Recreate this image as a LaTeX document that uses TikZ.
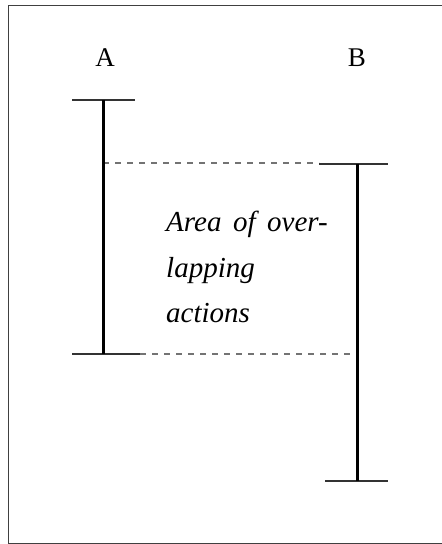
\documentclass[tikz,border=0pt]{standalone}
\usepackage{fontspec}
\setmainfont{Liberation Serif}[ItalicFont={Liberation Serif Italic}]
\begin{document}
\begin{tikzpicture}[x=1pt,y=-1pt,
  frame/.style={draw=black!75,line width=1pt},
  bar/.style={line width=3pt,line cap=butt},
  tick/.style={draw=black!80,line width=1.4pt},
  guide/.style={draw=black!55,line width=1.2pt,dash pattern=on 6pt off 6pt},
  lbl/.style={font=\fontsize{27}{30}\selectfont,inner sep=0pt},
  note/.style={font=\fontsize{29}{33}\selectfont\itshape,inner sep=0pt,anchor=base west}]
\useasboundingbox (0,0) rectangle (442,544);
\clip (0,0) rectangle (442,544);
\draw[frame] (8,5) rectangle (460,543);

% column labels
\node[lbl] (labA) at (105,58) {A};
\node[lbl] (labB) at (357,58) {B};

% action A
\coordinate (aTop) at (103,100);
\coordinate (aBot) at (103,354);
\coordinate (aTL) at (72,100);  \coordinate (aTR) at (135,100);
\coordinate (aBL) at (72,354);  \coordinate (aBR) at (140,354);
% action B
\coordinate (bTop) at (357,164);
\coordinate (bBot) at (357,481);
\coordinate (bTL) at (319,164); \coordinate (bTR) at (388,164);
\coordinate (bBL) at (325,481); \coordinate (bBR) at (388,481);

% overlap guides
\draw[guide] (103,163) -- (bTL |- 0,163);
\draw[guide] (aBR) -- (bBot |- aBR);

\draw[tick] (aTL) -- (aTR);
\draw[tick] (aBL) -- (aBR);
\draw[tick] (bTL) -- (bTR);
\draw[tick] (bBL) -- (bBR);
\draw[bar] (aTop) -- (aBot);
\draw[bar] (bTop) -- (bBot);

% overlap caption
\node[note] (n1) at (166,231) {Area\hspace{0.4em}of\hspace{0.4em}over-};
\node[note] (n2) at (166,277) {lapping};
\node[note] (n3) at (166,322) {actions};
\end{tikzpicture}
\end{document}
